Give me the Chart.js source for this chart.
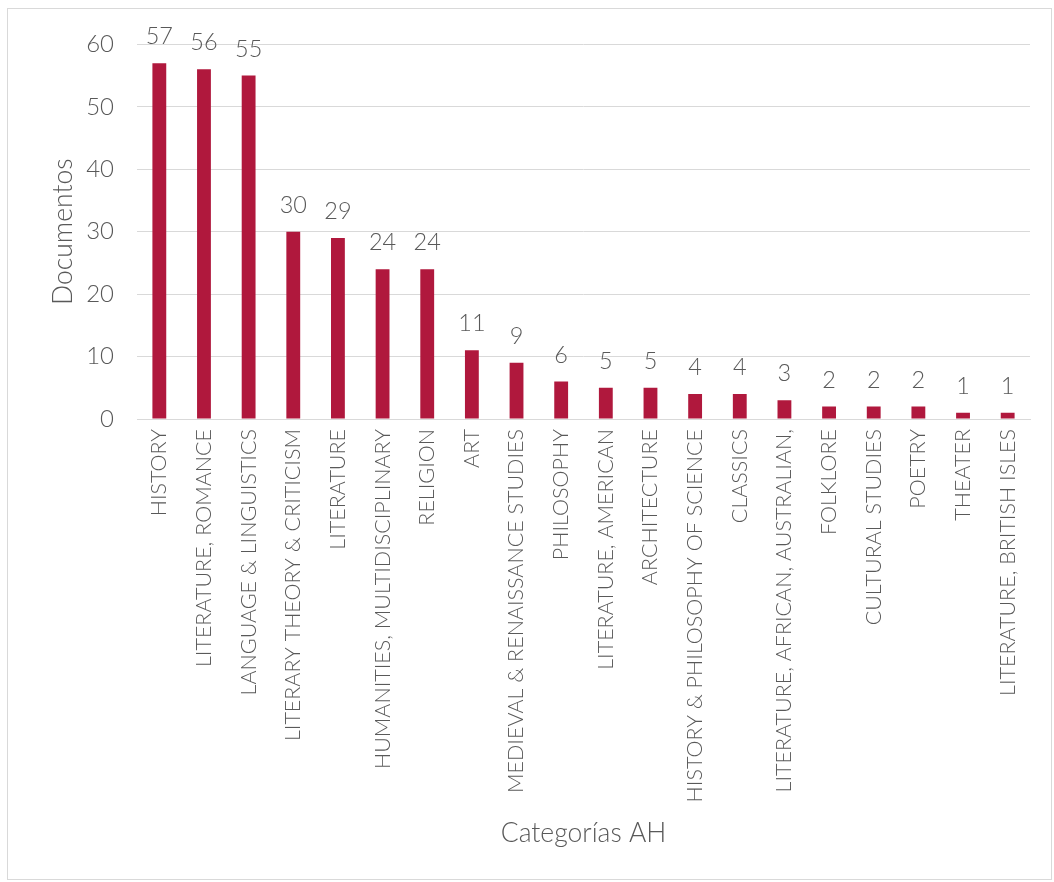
<!DOCTYPE html>
<html>
<head>
<meta charset="utf-8">
<script src="https://cdn.jsdelivr.net/npm/chart.js@4/dist/chart.umd.min.js"></script>
<style>
  html, body { margin: 0; padding: 0; background: #fff; }
  #frame {
    position: absolute; left: 7px; top: 8px;
    width: 1045px; height: 872px;
    border: 1px solid #d9d9d9; box-sizing: border-box;
  }
  #chart { display: block; position: absolute; left: 8px; top: 7px; }
</style>
</head>
<body>
<div id="frame"></div>
<canvas id="chart" width="1043" height="872"></canvas>
<script>
// categories and values
const categories = [
    'HISTORY', 'LITERATURE, ROMANCE', 'LANGUAGE & LINGUISTICS', 'LITERARY THEORY & CRITICISM',
    'LITERATURE', 'HUMANITIES, MULTIDISCIPLINARY', 'RELIGION', 'ART',
    'MEDIEVAL & RENAISSANCE STUDIES', 'PHILOSOPHY', 'LITERATURE, AMERICAN', 'ARCHITECTURE',
    'HISTORY & PHILOSOPHY OF SCIENCE', 'CLASSICS', 'LITERATURE, AFRICAN, AUSTRALIAN,',
    'FOLKLORE', 'CULTURAL STUDIES', 'POETRY', 'THEATER', 'LITERATURE, BRITISH ISLES'
];
const documentos = [57, 56, 55, 30, 29, 24, 24, 11, 9, 6, 5, 5, 4, 4, 3, 2, 2, 2, 1, 1];

const yTitle = 'Documentos';
const xTitle = 'Categorías AH';

const textColor = '#595959';
const gridColor = '#d9d9d9';
const barColor = '#b0183d';
const fontFamily = "Lato, 'Open Sans', sans-serif";

// value labels above bars
const valueLabels = {
    id: 'valueLabels',
    afterDatasetsDraw(chart) {
        const ctx = chart.ctx;
        const meta = chart.getDatasetMeta(0);
        ctx.save();
        ctx.font = `300 23.5px ${fontFamily}`;
        ctx.fillStyle = textColor;
        ctx.textAlign = 'center';
        ctx.textBaseline = 'alphabetic';
        meta.data.forEach((bar, i) => {
            ctx.fillText(String(documentos[i]), bar.x, bar.y - 19);
        });
        ctx.restore();
    }
};

new Chart(document.getElementById('chart'), {
    type: 'bar',
    data: {
        labels: categories,
        datasets: [{
            data: documentos,
            backgroundColor: barColor,
            borderWidth: 0,
            categoryPercentage: 1,
            barPercentage: 0.31
        }]
    },
    options: {
        responsive: false,
        animation: false,
        layout: { padding: { top: 6, right: 21, left: 40, bottom: 30 } },
        plugins: {
            legend: { display: false },
            tooltip: { enabled: false }
        },
        scales: {
            y: {
                min: 0,
                max: 60,
                ticks: {
                    stepSize: 10,
                    color: textColor,
                    padding: 23,
                    font: { family: fontFamily, size: 24, weight: 300 }
                },
                grid: { color: gridColor, lineWidth: 1, drawTicks: false },
                border: { display: false },
                title: {
                    display: true,
                    text: yTitle,
                    color: textColor,
                    padding: 0,
                    font: { family: fontFamily, size: 26.5, weight: 300 }
                },
                afterFit(scale) { scale.width = 89; }
            },
            x: {
                ticks: {
                    color: textColor,
                    minRotation: 90,
                    maxRotation: 90,
                    autoSkip: false,
                    padding: 10,
                    font: { family: fontFamily, size: 21.5, weight: 300 }
                },
                grid: { display: false, drawTicks: false },
                border: { color: gridColor, width: 1 },
                title: {
                    display: true,
                    text: xTitle,
                    color: textColor,
                    padding: 0,
                    font: { family: fontFamily, size: 26.5, weight: 300 }
                },
                afterFit(scale) { scale.height = 430; }
            }
        }
    },
    plugins: [valueLabels]
});
</script>
</body>
</html>
